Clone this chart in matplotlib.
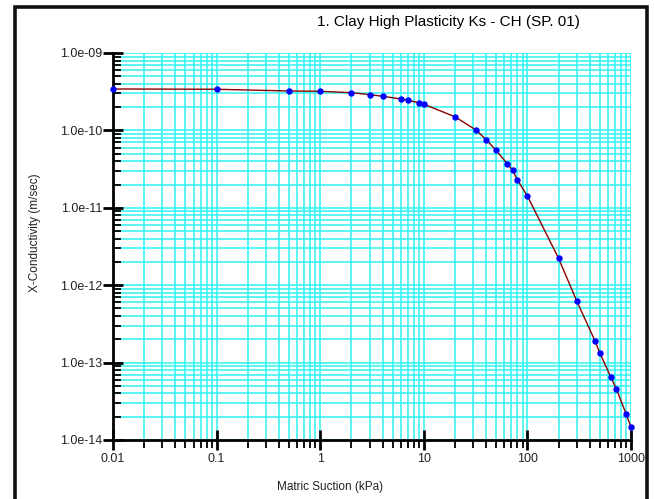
import numpy as np
import matplotlib.pyplot as plt
from matplotlib.patches import Rectangle
from matplotlib.ticker import LogLocator, FixedLocator, NullFormatter

plt.rcParams['font.family'] = ['Liberation Sans', 'DejaVu Sans']

# matric suction (kPa) and x-conductivity (m/sec)
suction = [0.01, 0.1, 0.5, 1, 2, 3, 4, 6, 7, 9, 10, 20, 32, 40, 50, 64, 72,
           80, 100, 200, 300, 450, 500, 640, 720, 900, 1000]
conductivity = [3.43e-10, 3.40e-10, 3.23e-10, 3.20e-10, 3.07e-10, 2.90e-10,
                2.76e-10, 2.55e-10, 2.45e-10, 2.28e-10, 2.18e-10, 1.50e-10,
                1.01e-10, 7.6e-11, 5.5e-11, 3.7e-11, 3.05e-11, 2.3e-11,
                1.42e-11, 2.22e-12, 6.2e-13, 1.9e-13, 1.33e-13, 6.45e-14,
                4.6e-14, 2.15e-14, 1.47e-14]

x_ticks = [0.01, 0.1, 1, 10, 100, 1000]
x_labels = ['0.01', '0.1', '1', '10', '100', '1000']
y_ticks = [1e-14, 1e-13, 1e-12, 1e-11, 1e-10, 1e-9]
y_labels = ['1.0e-14', '1.0e-13', '1.0e-12', '1.0e-11', '1.0e-10', '1.0e-09']

title = '1. Clay High Plasticity Ks - CH (SP. 01)'

W, H = 654, 499
fig = plt.figure(figsize=(W / 100, H / 100), dpi=100)
ax = fig.add_axes([113 / W, 1 - 440 / H, 518 / W, 387 / H])

ax.set_xscale('log')
ax.set_yscale('log')
ax.set_xlim(0.01, 1000)
ax.set_ylim(1e-14, 1e-9)

# cyan grid on every decade and sub-decade
ax.xaxis.set_major_locator(FixedLocator(x_ticks))
ax.yaxis.set_major_locator(FixedLocator(y_ticks))
ax.xaxis.set_minor_locator(LogLocator(base=10, subs=np.arange(2, 10), numticks=20))
ax.yaxis.set_minor_locator(LogLocator(base=10, subs=np.arange(2, 10), numticks=20))
ax.xaxis.set_minor_formatter(NullFormatter())
ax.yaxis.set_minor_formatter(NullFormatter())
ax.set_xticklabels(x_labels)
ax.set_yticklabels(y_labels)
ax.grid(True, which='both', color='#2ff2f2', lw=1.1)
ax.set_axisbelow(True)

for side in ('top', 'right'):
    ax.spines[side].set_visible(False)
for side in ('left', 'bottom'):
    ax.spines[side].set_linewidth(2)

ax.tick_params(which='major', direction='inout', length=15, width=2,
               labelsize=9, colors='black')
ax.tick_params(axis='x', which='major', pad=2)
ax.tick_params(axis='y', which='major', pad=0)
ax.tick_params(axis='x', which='minor', direction='out', length=6, width=1.3)
ax.tick_params(axis='y', which='minor', direction='in', length=6, width=1.3)
for lab in ax.get_xticklabels() + ax.get_yticklabels():
    lab.set_color('#222222')

ax.plot(suction, conductivity, color='#8b0000', lw=1.0, zorder=3)
ax.plot(suction, conductivity, 'o', color='#0000ff', ms=3.6, mec='#0000ff',
        zorder=4, clip_on=False)

fig.text(448 / W, 1 - 22 / H, title, ha='center', va='center', fontsize=11)
fig.text(330 / W, 1 - 487 / H, 'Matric Suction (kPa)', ha='center',
         va='center', fontsize=8.5, color='#222222')
fig.text(35 / W, 1 - 233 / H, 'X-Conductivity (m/sec)', ha='center',
         va='center', rotation=90, fontsize=8.5, color='#222222')

# outer frame, open at the bottom edge of the image
fig.patches.append(Rectangle((14.5 / W, -0.1), 632 / W, 1.1 - 6.5 / H,
                             transform=fig.transFigure, fill=False,
                             lw=2.6, ec='#111111'))

fig.savefig('out.png', dpi=100)
